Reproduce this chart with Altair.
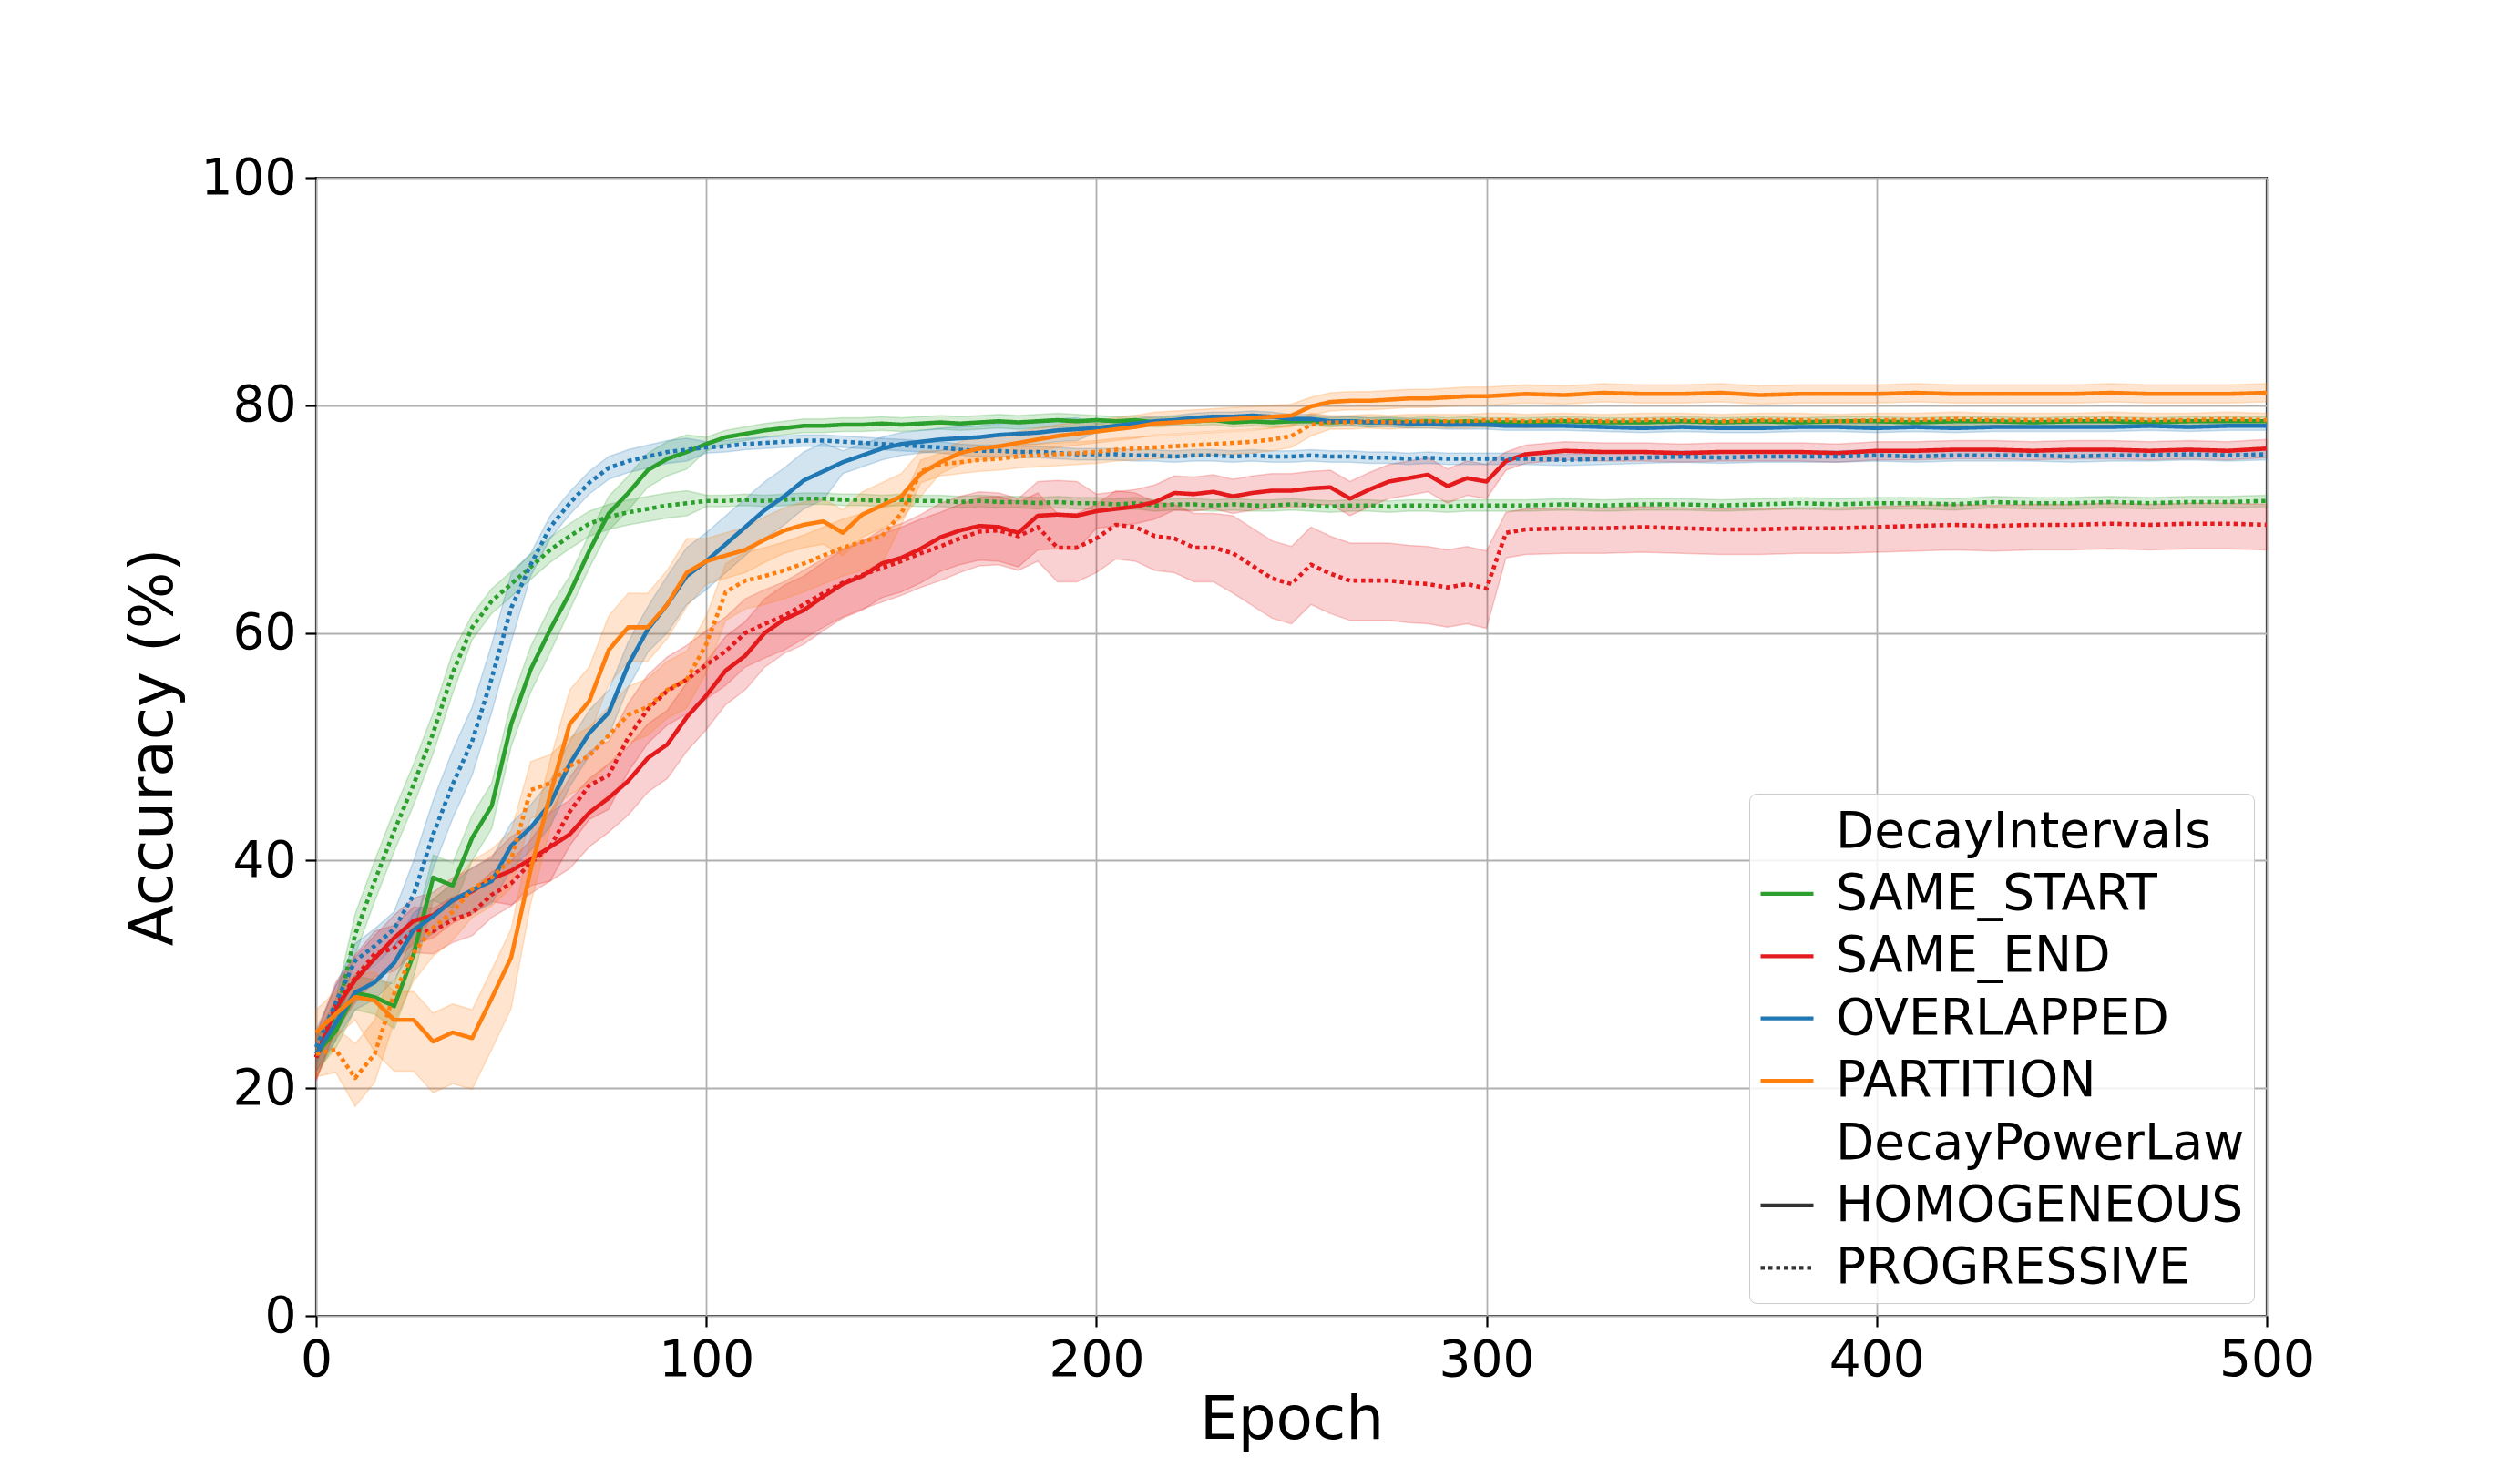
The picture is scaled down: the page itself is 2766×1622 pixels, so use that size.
import altair as alt
import pandas as pd

# ---------------- data ----------------
EPOCHS = list(range(0, 306, 5)) + list(range(310, 501, 10))

INTERVALS = ["SAME_START", "SAME_END", "OVERLAPPED", "PARTITION"]
INTERVAL_COLORS = ["#2ca02c", "#e41a1c", "#1f77b4", "#ff7f0e"]
POWER_LAWS = ["HOMOGENEOUS", "PROGRESSIVE"]
X_TICKS = [0, 100, 200, 300, 400, 500]
Y_TICKS = [0, 20, 40, 60, 80, 100]

SAME_START_HOMOGENEOUS = [
    23.0, 25.0, 28.4, 28.0, 27.2, 31.8, 38.5, 37.8, 42.0, 44.8,
    52.0, 56.8, 60.3, 63.5, 67.2, 70.5, 72.3, 74.3, 75.3, 75.9,
    76.6, 77.2, 77.5, 77.8, 78.0, 78.2, 78.2, 78.3, 78.3, 78.4,
    78.3, 78.4, 78.5, 78.4, 78.5, 78.6, 78.5, 78.6, 78.7, 78.6,
    78.7, 78.6, 78.7, 78.5, 78.6, 78.6, 78.7, 78.5, 78.6, 78.5,
    78.6, 78.6, 78.5, 78.6, 78.5, 78.6, 78.5, 78.6, 78.5, 78.6,
    78.5, 78.5, 78.5, 78.6, 78.5, 78.5, 78.6, 78.5, 78.6, 78.5,
    78.6, 78.6, 78.5, 78.6, 78.6, 78.5, 78.6, 78.6, 78.5, 78.6, 78.6, 78.6,
]
SAME_START_PROGRESSIVE = [
    22.7, 26.0, 33.5, 38.2, 42.6, 46.7, 51.2, 56.5, 60.5, 62.8,
    64.3, 65.8, 67.3, 68.5, 69.6, 70.2, 70.6, 70.9, 71.2, 71.4,
    71.6, 71.6, 71.7, 71.6, 71.7, 71.8, 71.8, 71.7, 71.7, 71.6,
    71.7, 71.6, 71.6, 71.5, 71.6, 71.5, 71.5, 71.4, 71.5, 71.4,
    71.4, 71.3, 71.4, 71.2, 71.3, 71.3, 71.2, 71.3, 71.2, 71.2,
    71.3, 71.2, 71.1, 71.2, 71.2, 71.1, 71.2, 71.2, 71.1, 71.2,
    71.2, 71.2, 71.2, 71.3, 71.2, 71.3, 71.3, 71.2, 71.3, 71.4,
    71.3, 71.4, 71.4, 71.3, 71.5, 71.4, 71.4, 71.5, 71.4, 71.5, 71.5, 71.6,
]
SAME_END_HOMOGENEOUS = [
    22.7, 27.0, 29.5, 31.4, 33.2, 34.7, 35.2, 36.5, 37.3, 38.4,
    39.1, 40.1, 41.2, 42.3, 44.2, 45.5, 47.0, 49.0, 50.2, 52.6,
    54.5, 56.7, 58.0, 60.0, 61.2, 62.0, 63.2, 64.3, 65.0, 66.1,
    66.6, 67.4, 68.4, 69.0, 69.4, 69.3, 68.8, 70.3, 70.4, 70.3,
    70.7, 70.9, 71.1, 71.5, 72.3, 72.2, 72.4, 72.0, 72.3, 72.5,
    72.5, 72.7, 72.8, 71.8, 72.6, 73.3, 73.6, 73.9, 72.9, 73.6,
    73.3, 75.1, 75.7, 76.0, 75.9, 75.9, 75.8, 75.9, 75.9, 75.9,
    75.8, 76.0, 76.0, 76.1, 76.1, 76.0, 76.1, 76.1, 76.0, 76.1, 76.0, 76.2,
]
SAME_END_PROGRESSIVE = [
    22.7, 27.3, 29.7, 31.8, 32.3, 33.9, 33.8, 34.8, 35.4, 37.0,
    38.0, 39.8, 41.2, 44.3, 46.6, 47.5, 50.8, 53.3, 54.9, 55.9,
    57.2, 58.4, 60.0, 60.8, 61.5, 62.5, 63.5, 64.4, 65.1, 65.7,
    66.3, 67.0, 67.6, 68.3, 68.9, 69.0, 68.5, 69.3, 67.5, 67.5,
    68.3, 69.5, 69.3, 68.5, 68.3, 67.5, 67.5, 67.0, 65.9, 64.8,
    64.3, 66.0, 65.2, 64.6, 64.6, 64.6, 64.4, 64.3, 64.0, 64.3,
    63.9, 68.8, 69.1, 69.2, 69.2, 69.3, 69.2, 69.1, 69.1, 69.2,
    69.2, 69.3, 69.4, 69.5, 69.4, 69.5, 69.5, 69.6, 69.5, 69.6, 69.6, 69.5,
]
OVERLAPPED_HOMOGENEOUS = [
    23.0, 25.7, 28.4, 29.3, 31.0, 33.9, 35.1, 36.5, 37.4, 38.2,
    41.3, 42.9, 45.0, 48.5, 51.2, 53.0, 57.2, 60.3, 62.5, 65.0,
    66.3, 67.8, 69.3, 70.8, 72.0, 73.4, 74.2, 75.0, 75.6, 76.2,
    76.6, 76.8, 77.0, 77.1, 77.2, 77.4, 77.5, 77.6, 77.8, 77.9,
    78.0, 78.2, 78.4, 78.6, 78.7, 78.9, 79.0, 79.0, 79.1, 79.0,
    78.8, 78.8, 78.6, 78.6, 78.5, 78.5, 78.4, 78.4, 78.3, 78.3,
    78.3, 78.2, 78.2, 78.2, 78.1, 78.0, 78.1, 78.0, 78.0, 78.1,
    78.1, 78.0, 78.1, 78.0, 78.1, 78.1, 78.1, 78.1, 78.2, 78.1, 78.2, 78.2,
]
OVERLAPPED_PROGRESSIVE = [
    23.6, 27.5, 31.2, 32.5, 34.0, 37.0, 42.3, 46.7, 50.5, 56.0,
    62.2, 66.0, 69.3, 71.4, 73.2, 74.5, 75.1, 75.5, 75.9, 76.1,
    76.3, 76.4, 76.6, 76.7, 76.8, 76.9, 76.9, 76.8, 76.7, 76.6,
    76.5, 76.4, 76.3, 76.1, 76.0, 76.0, 75.9, 75.9, 75.8, 75.7,
    75.7, 75.7, 75.6, 75.6, 75.5, 75.6, 75.6, 75.5, 75.6, 75.5,
    75.5, 75.6, 75.5, 75.5, 75.4, 75.4, 75.3, 75.4, 75.3, 75.3,
    75.3, 75.3, 75.3, 75.2, 75.3, 75.4, 75.5, 75.4, 75.5, 75.5,
    75.5, 75.6, 75.5, 75.6, 75.6, 75.6, 75.5, 75.6, 75.6, 75.7, 75.6, 75.7,
]
PARTITION_HOMOGENEOUS = [
    24.9, 26.5, 28.0, 27.7, 26.0, 26.0, 24.1, 24.9, 24.4, 27.9,
    31.5, 39.2, 45.8, 52.0, 54.0, 58.5, 60.5, 60.5, 62.5, 65.3,
    66.3, 66.8, 67.3, 68.2, 69.0, 69.5, 69.8, 68.8, 70.4, 71.2,
    72.0, 74.0, 75.0, 75.8, 76.2, 76.4, 76.7, 77.0, 77.3, 77.5,
    77.7, 77.9, 78.1, 78.4, 78.5, 78.6, 78.7, 78.8, 78.9, 79.0,
    79.1, 79.9, 80.3, 80.4, 80.4, 80.5, 80.6, 80.6, 80.7, 80.8,
    80.8, 80.9, 81.0, 80.9, 81.1, 81.0, 81.0, 81.1, 80.9, 81.0,
    81.0, 81.0, 81.1, 81.0, 81.0, 81.0, 81.0, 81.1, 81.0, 81.0, 81.0, 81.1,
]
PARTITION_PROGRESSIVE = [
    23.0, 23.4, 20.9, 23.0, 28.3, 31.9, 34.1, 35.5, 37.5, 38.5,
    40.1, 46.2, 46.8, 48.3, 49.2, 51.0, 52.8, 53.5, 55.0, 55.9,
    59.0, 63.6, 64.6, 65.0, 65.5, 66.1, 66.8, 67.5, 68.0, 68.5,
    70.5, 74.2, 74.8, 75.0, 75.2, 75.3, 75.5, 75.6, 75.7, 75.8,
    75.9, 76.1, 76.2, 76.3, 76.4, 76.5, 76.6, 76.7, 76.8, 77.0,
    77.3, 78.3, 78.5, 78.5, 78.6, 78.5, 78.6, 78.6, 78.6, 78.6,
    78.7, 78.7, 78.6, 78.7, 78.6, 78.7, 78.7, 78.6, 78.7, 78.7,
    78.6, 78.7, 78.7, 78.8, 78.7, 78.7, 78.7, 78.8, 78.7, 78.7, 78.8, 78.7,
]

# spread of the shaded band: (from epoch, below, above)
SAME_START_HOMOGENEOUS_BAND = [(0, 1.5, 1.5), (20, 2.0, 2.0), (65, 1.5, 1.5), (100, 0.6, 0.6), (200, 0.4, 0.4)]
SAME_START_PROGRESSIVE_BAND = [(0, 1.8, 1.8), (40, 1.1, 1.1), (100, 0.5, 0.5)]
SAME_END_HOMOGENEOUS_BAND = [(0, 2.0, 2.0), (50, 3.0, 3.0), (200, 1.5, 1.5), (305, 0.8, 0.8)]
SAME_END_PROGRESSIVE_BAND = [(0, 2.0, 2.0), (60, 3.0, 3.0), (235, 3.5, 3.3), (305, 2.2, 1.8)]
OVERLAPPED_HOMOGENEOUS_BAND = [(0, 1.5, 1.5), (40, 2.0, 2.0), (90, 2.5, 2.5), (135, 1.0, 1.0), (200, 0.4, 0.4)]
OVERLAPPED_PROGRESSIVE_BAND = [(0, 1.5, 1.5), (25, 3.0, 3.0), (55, 1.0, 1.0), (100, 0.5, 0.5)]
PARTITION_HOMOGENEOUS_BAND = [(0, 2.0, 2.0), (15, 4.5, 2.5), (55, 3.0, 3.0), (100, 2.0, 2.0), (160, 1.0, 1.0), (255, 0.8, 0.8)]
PARTITION_PROGRESSIVE_BAND = [(0, 2.0, 2.0), (10, 2.5, 3.0), (25, 2.5, 2.5), (150, 1.0, 1.0), (260, 0.6, 0.6)]

SERIES = [
    ("SAME_START", "HOMOGENEOUS", SAME_START_HOMOGENEOUS, SAME_START_HOMOGENEOUS_BAND),
    ("SAME_START", "PROGRESSIVE", SAME_START_PROGRESSIVE, SAME_START_PROGRESSIVE_BAND),
    ("SAME_END", "HOMOGENEOUS", SAME_END_HOMOGENEOUS, SAME_END_HOMOGENEOUS_BAND),
    ("SAME_END", "PROGRESSIVE", SAME_END_PROGRESSIVE, SAME_END_PROGRESSIVE_BAND),
    ("OVERLAPPED", "HOMOGENEOUS", OVERLAPPED_HOMOGENEOUS, OVERLAPPED_HOMOGENEOUS_BAND),
    ("OVERLAPPED", "PROGRESSIVE", OVERLAPPED_PROGRESSIVE, OVERLAPPED_PROGRESSIVE_BAND),
    ("PARTITION", "HOMOGENEOUS", PARTITION_HOMOGENEOUS, PARTITION_HOMOGENEOUS_BAND),
    ("PARTITION", "PROGRESSIVE", PARTITION_PROGRESSIVE, PARTITION_PROGRESSIVE_BAND),
]

LEGEND_ENTRIES = ["DecayIntervals", "SAME_START", "SAME_END", "OVERLAPPED", "PARTITION",
                  "DecayPowerLaw", "HOMOGENEOUS", "PROGRESSIVE"]
LEGEND_COLORS = ["transparent", "#2ca02c", "#e41a1c", "#1f77b4", "#ff7f0e",
                 "transparent", "#333333", "#333333"]
SOLID = [1, 0]
DOTTED = [4.5, 4]
LEGEND_DASHES = [SOLID, SOLID, SOLID, SOLID, SOLID, SOLID, SOLID, DOTTED]


def band_at(segments, ep):
    lo, hi = segments[0][1], segments[0][2]
    for start, b, a in segments:
        if ep >= start:
            lo, hi = b, a
    return lo, hi


rows = []
for interval, power, values, band in SERIES:
    for ep, v in zip(EPOCHS, values):
        b, a = band_at(band, ep)
        rows.append({"epoch": ep, "acc": v, "lo": v - b, "hi": v + a,
                     "interval": interval, "power": power})
df = pd.DataFrame(rows)

legend_df = pd.DataFrame({"entry": LEGEND_ENTRIES,
                          "epoch": [None] * len(LEGEND_ENTRIES),
                          "acc": [None] * len(LEGEND_ENTRIES)})

FONT = "DejaVu Sans"

x_enc = alt.X("epoch:Q", scale=alt.Scale(domain=[0, 500], nice=False, zero=False),
              axis=alt.Axis(values=X_TICKS, title="Epoch", titlePadding=6))
color_scale = alt.Scale(domain=INTERVALS, range=INTERVAL_COLORS)

base = alt.Chart(df)

band = base.mark_area(fillOpacity=0.2, strokeOpacity=0.22, strokeWidth=1.5).encode(
    x=x_enc,
    y=alt.Y("lo:Q", scale=alt.Scale(domain=[0, 100], nice=False),
            axis=alt.Axis(values=Y_TICKS, title="Accuracy (%)", titlePadding=18)),
    y2="hi:Q",
    color=alt.Color("interval:N", scale=color_scale, legend=None),
    stroke=alt.Stroke("interval:N", scale=color_scale, legend=None),
    detail="power:N",
)

lines = base.mark_line(strokeWidth=4.6, strokeJoin="round").encode(
    x=x_enc,
    y=alt.Y("acc:Q", scale=alt.Scale(domain=[0, 100], nice=False)),
    color=alt.Color("interval:N", scale=color_scale, legend=None),
    strokeDash=alt.StrokeDash("power:N",
                              scale=alt.Scale(domain=POWER_LAWS, range=[SOLID, DOTTED]),
                              legend=None),
)

legend_kw = dict(
    title=None, orient="bottom-right", offset=14,
    labelFont=FONT, labelFontSize=55, labelColor="black", labelLimit=0,
    labelOffset=22, rowPadding=8.4, padding=10,
    symbolType="stroke", symbolSize=3364, symbolStrokeWidth=4.2,
    fillColor="rgba(255,255,255,0.85)", strokeColor="#cccccc", cornerRadius=8,
)

legend_layer = alt.Chart(legend_df).mark_line(strokeWidth=4.2).encode(
    x="epoch:Q",
    y="acc:Q",
    color=alt.Color("entry:N", scale=alt.Scale(domain=LEGEND_ENTRIES, range=LEGEND_COLORS),
                    legend=alt.Legend(**legend_kw)),
    strokeDash=alt.StrokeDash("entry:N", scale=alt.Scale(domain=LEGEND_ENTRIES, range=LEGEND_DASHES),
                              legend=alt.Legend(**legend_kw)),
)

chart = (
    alt.layer(band, lines, legend_layer)
    .resolve_scale(color="independent", strokeDash="independent", stroke="independent")
    .properties(width=2141, height=1249,
                padding={"left": 127, "top": 160, "right": 20, "bottom": 10},
                background="white")
    .configure_view(stroke="black", strokeWidth=2.2)
    .configure_axis(
        grid=True, gridColor="#b0b0b0", gridWidth=1.8, domain=False,
        ticks=True, tickColor="black", tickSize=12, tickWidth=2.2,
        labelFont=FONT, labelFontSize=55, labelColor="black", labelPadding=10,
        labelFlush=False, labelOverlap=False,
        titleFont=FONT, titleFontSize=66, titleFontWeight="normal", titleColor="black",
    )
)

chart.save("out.html", embed_options={"renderer": "svg", "actions": False})
